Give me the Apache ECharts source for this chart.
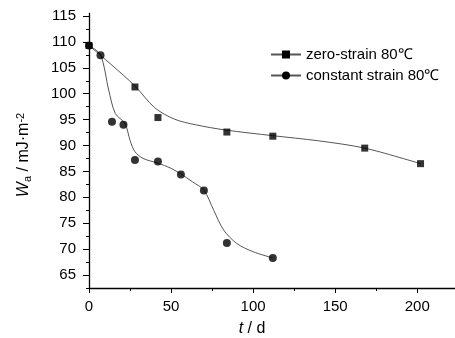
<!DOCTYPE html>
<html>
<head>
<meta charset="utf-8">
<script src="https://cdn.jsdelivr.net/npm/echarts@6/dist/echarts.min.js"></script>
<style>
  html, body { margin: 0; padding: 0; background: #fff; }
  #chart { width: 455px; height: 338px; }
</style>
</head>
<body>
<div id="chart"></div>
<script>
// measured points (t in days, Wa in mJ/m2)
var zeroDays = [0, 28, 42, 84, 112, 168, 202];
var zeroWa = [109.3, 101.3, 95.4, 92.6, 91.8, 89.5, 86.5];
var constDays = [0, 7, 14, 21, 28, 42, 56, 70, 84, 112];
var constWa = [109.3, 107.4, 94.6, 94.0, 87.2, 86.9, 84.4, 81.3, 71.2, 68.3];

// fitted curves
var zeroFitDays = [0, 14, 28, 40, 52, 65, 83, 112, 140, 168, 202];
var zeroFitWa = [109.3, 105.5, 101.5, 97.3, 95.1, 94.0, 93.0, 91.9, 90.9, 89.5, 86.5];
var constFitDays = [0, 7, 12, 16, 22, 25, 28, 33, 42, 50, 56, 63, 70, 76, 82, 90, 100, 112];
var constFitWa = [109.3, 107.5, 100.7, 96.2, 94.2, 91.0, 88.8, 87.5, 86.6, 85.6, 84.5, 83.0, 81.4, 77.5, 73.7, 71.1, 69.5, 68.3];

var xMajor = [0, 50, 100, 150, 200];
var xMinor = [25, 75, 125, 175];
var yMajor = [65, 70, 75, 80, 85, 90, 95, 100, 105, 110, 115];
var yMinor = [62.5, 67.5, 72.5, 77.5, 82.5, 87.5, 92.5, 97.5, 102.5, 107.5, 112.5];

var names = ['zero-strain 80℃', 'constant strain 80℃'];

function pairs(xs, ys) {
  return xs.map(function (x, i) { return [x, ys[i]]; });
}

var font = "'Liberation Sans', Arial, sans-serif";

var chart = echarts.init(document.getElementById('chart'));

var option = {
  animation: false,
  grid: { left: 89, right: 0, top: 13.4, bottom: 50 },
  legend: {
    data: names,
    orient: 'vertical',
    left: 265,
    top: 42,
    itemWidth: 30,
    itemHeight: 10,
    itemGap: 6,
    textStyle: { fontFamily: font, fontSize: 15, color: '#000' }
  },
  xAxis: [{
    type: 'value',
    min: 0,
    max: 223,
    axisLine: { lineStyle: { color: '#000', width: 1.3 } },
    axisTick: { length: 5, customValues: xMajor, lineStyle: { color: '#000' } },
    splitLine: { show: false },
    axisLabel: { customValues: xMajor, fontFamily: font, fontSize: 15, color: '#000', margin: 11 }
  }, {
    type: 'value',
    min: 0,
    max: 223,
    position: 'bottom',
    axisLine: { show: false },
    axisTick: { show: true, length: 3, customValues: xMinor, lineStyle: { color: '#000' } },
    axisLabel: { show: false },
    splitLine: { show: false }
  }],
  yAxis: [{
    type: 'value',
    min: 62.5,
    max: 115.5,
    axisLine: { show: true, lineStyle: { color: '#000', width: 1.3 } },
    axisTick: { show: true, length: 6, customValues: yMajor, lineStyle: { color: '#000' } },
    axisLabel: { customValues: yMajor, fontFamily: font, fontSize: 15, color: '#000', margin: 13 },
    splitLine: { show: false }
  }, {
    type: 'value',
    min: 62.5,
    max: 115.5,
    position: 'left',
    axisLine: { show: false },
    axisTick: { show: true, length: 3, customValues: yMinor, lineStyle: { color: '#000' } },
    axisLabel: { show: false },
    splitLine: { show: false }
  }],
  graphic: [{
    type: 'text',
    x: 24,
    y: 155,
    rotation: Math.PI / 2,
    style: {
      text: '{i|W}{sub|a} / mJ·m{sup|-2}',
      align: 'center',
      verticalAlign: 'middle',
      font: '16px ' + font,
      fill: '#000',
      rich: {
        i: { fontFamily: font, fontSize: 16, fontStyle: 'italic' },
        sub: { fontFamily: font, fontSize: 11, verticalAlign: 'bottom', padding: [7, 0, 0, 0] },
        sup: { fontFamily: font, fontSize: 11, verticalAlign: 'top', padding: [0, 0, 7, 0] }
      }
    }
  }, {
    type: 'text',
    x: 252,
    y: 329,
    style: {
      text: '{i|t} / d',
      align: 'center',
      verticalAlign: 'middle',
      font: '16px ' + font,
      fill: '#000',
      rich: { i: { fontFamily: font, fontSize: 16, fontStyle: 'italic' } }
    }
  }],
  series: [{
    name: names[0],
    type: 'line',
    smooth: 0.3,
    symbol: 'rect',
    symbolSize: 7,
    showSymbol: false,
    itemStyle: { color: '#000' },
    lineStyle: { color: '#555', width: 1 },
    data: pairs(zeroFitDays, zeroFitWa),
    z: 1
  }, {
    name: names[1],
    type: 'line',
    smooth: 0.3,
    symbol: 'circle',
    symbolSize: 7,
    showSymbol: false,
    itemStyle: { color: '#000' },
    lineStyle: { color: '#555', width: 1 },
    data: pairs(constFitDays, constFitWa),
    z: 1
  }, {
    name: names[0],
    type: 'scatter',
    symbol: 'rect',
    symbolSize: 7,
    itemStyle: { color: '#000' },
    data: pairs(zeroDays, zeroWa),
    z: 3
  }, {
    name: names[1],
    type: 'scatter',
    symbol: 'circle',
    symbolSize: 8,
    itemStyle: { color: '#000' },
    data: pairs(constDays, constWa),
    z: 3
  }]
};

chart.setOption(option);
</script>
</body>
</html>
